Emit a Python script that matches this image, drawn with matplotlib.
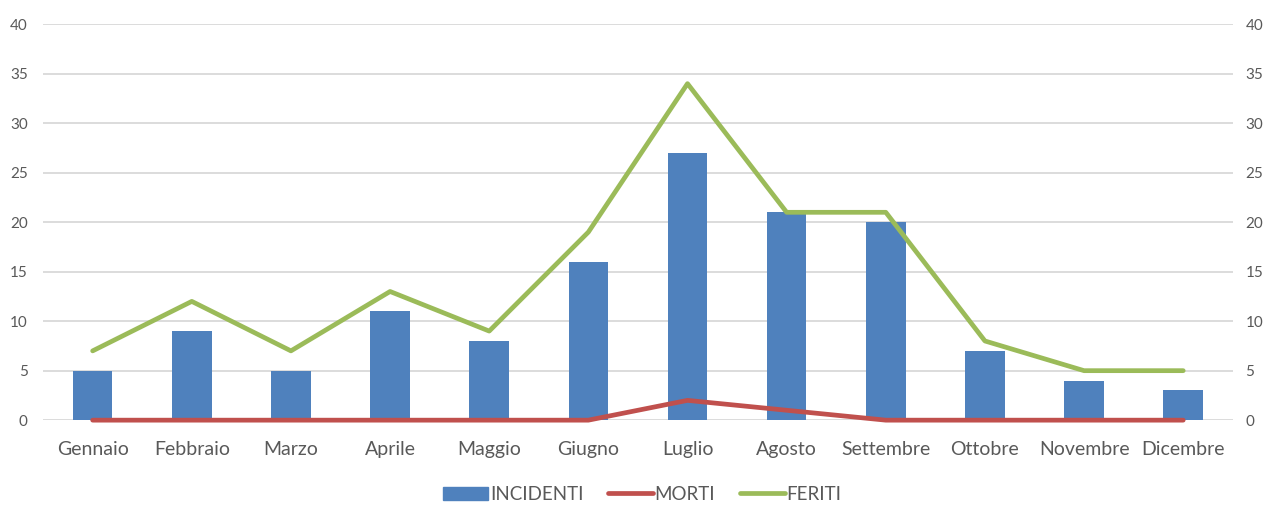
import matplotlib

matplotlib.use("Agg")
import matplotlib.pyplot as plt
import numpy as np
from matplotlib.patches import Patch
from matplotlib.lines import Line2D

mesi = ["Gennaio", "Febbraio", "Marzo", "Aprile", "Maggio", "Giugno",
        "Luglio", "Agosto", "Settembre", "Ottobre", "Novembre", "Dicembre"]
incidenti = [5, 9, 5, 11, 8, 16, 27, 21, 20, 7, 4, 3]
morti = [0, 0, 0, 0, 0, 0, 2, 1, 0, 0, 0, 0]
feriti = [7, 12, 7, 13, 9, 19, 34, 21, 21, 8, 5, 5]

BLU = "#4F81BD"
ROSSO = "#C0504D"
VERDE = "#9BBB59"
TESTO = "#595959"

plt.rcParams["font.family"] = ["Lato", "DejaVu Sans"]

fig = plt.figure(figsize=(12.67, 5.05), dpi=100)
ax = fig.add_axes([0.034, 0.168, 0.939, 0.784])
x = np.arange(len(mesi))

ax.bar(x, incidenti, width=0.4, color=BLU, zorder=2)
ax.plot(x, morti, color=ROSSO, lw=3.4, solid_capstyle="round",
        solid_joinstyle="round", zorder=3, clip_on=False)
ax.plot(x, feriti, color=VERDE, lw=3.4, solid_capstyle="round",
        solid_joinstyle="round", zorder=3, clip_on=False)

ax.set_xlim(-0.5, len(mesi) - 0.5)
ax.set_ylim(0, 40)
ax.set_yticks(range(0, 41, 5))
ax.set_xticks(x)
ax.set_xticklabels(mesi)
ax.yaxis.grid(True, color="#D9D9D9", lw=1.3, zorder=0)
ax.set_axisbelow(True)
for s in ax.spines.values():
    s.set_visible(False)
ax.tick_params(axis="y", length=0, colors=TESTO, labelsize=11, pad=11)
ax.tick_params(axis="x", length=0, colors=TESTO, labelsize=14, pad=15)

ax2 = ax.twinx()
ax2.set_ylim(0, 40)
ax2.set_yticks(range(0, 41, 5))
for s in ax2.spines.values():
    s.set_visible(False)
ax2.tick_params(axis="y", length=0, colors=TESTO, labelsize=11, pad=9)

handles = [
    Patch(color=BLU),
    Line2D([], [], color=ROSSO, lw=3.4, solid_capstyle="round"),
    Line2D([], [], color=VERDE, lw=3.4, solid_capstyle="round"),
]
fig.legend(handles, ["INCIDENTI", "MORTI", "FERITI"], loc="center",
           bbox_to_anchor=(0.507, 0.021), ncol=3, frameon=False,
           fontsize=13.5, labelcolor=TESTO, handlelength=2.4,
           handletextpad=0.1, columnspacing=1.3)

fig.savefig("out.png", dpi=100)
